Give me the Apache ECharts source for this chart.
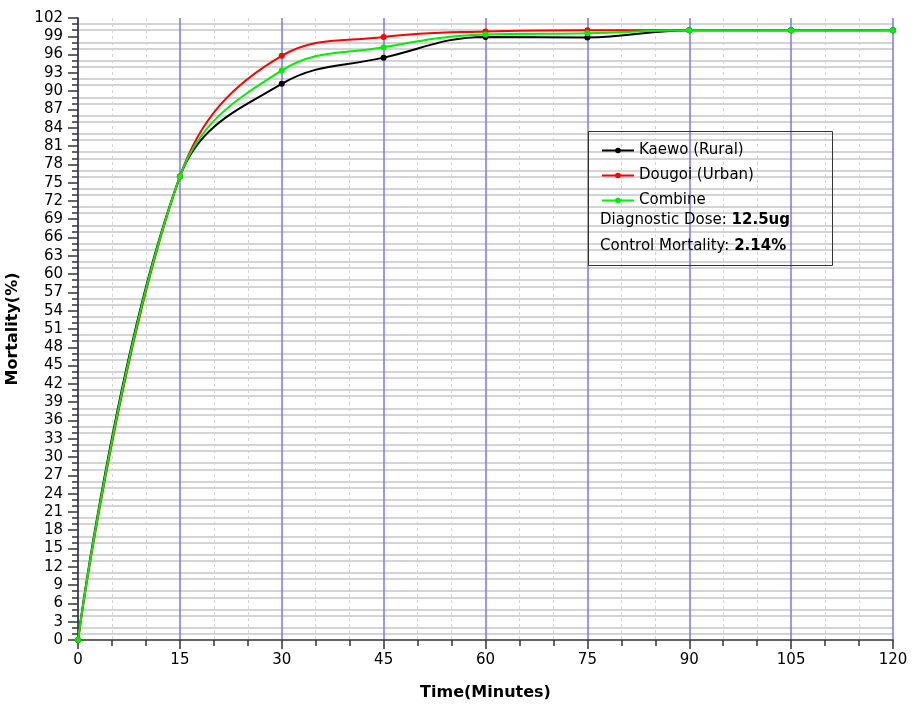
<!DOCTYPE html>
<html>
<head>
<meta charset="utf-8">
<script src="https://cdn.jsdelivr.net/npm/echarts@6/dist/echarts.min.js"></script>
<style>html,body{margin:0;padding:0;background:#fff}#c{width:915px;height:704px}</style>
</head>
<body>
<div id="c"></div>
<script>
var times = [0, 15, 30, 45, 60, 75, 90, 105, 120];
var kaewo = [0, 76, 91.2, 95.5, 98.9, 98.8, 100, 100, 100];
var dougoi = [0, 76, 95.8, 98.9, 99.8, 100, 100, 100, 100];
var combine = [0, 76, 93.4, 97.2, 99.3, 99.5, 100, 100, 100];
var seriesNames = ['Kaewo (Rural)', 'Dougoi (Urban)', 'Combine'];
var seriesColors = ['#000000', '#ff0000', '#00ee00'];
var doseText = '12.5ug';
var controlText = '2.14%';

function pairs(vals){ return times.map(function(t,i){ return [t, vals[i]]; }); }
var FONT = 'DejaVu Sans';
var chart = echarts.init(document.getElementById('c'));
var allVals = [kaewo, dougoi, combine];
chart.setOption({
  animation: false,
  backgroundColor: '#fff',
  grid: { left: 78, right: 22, top: 18, bottom: 64, containLabel: false, outerBoundsMode: 'none' },
  xAxis: {
    type: 'value', min: 0, max: 120, interval: 15,
    name: 'Time(Minutes)', nameLocation: 'middle', nameGap: 45,
    nameTextStyle: { fontFamily: FONT, fontWeight: 'bold', fontSize: 16, color: '#000' },
    axisLine: { show: true, onZero: false, lineStyle: { color: '#333', width: 1.5 } },
    axisTick: { show: true, length: 9, lineStyle: { color: '#333', width: 1.5 } },
    minorTick: { show: true, splitNumber: 3, length: 6, lineStyle: { color: '#333', width: 1.5 } },
    axisLabel: { margin: 13, fontFamily: FONT, fontSize: 15, color: '#000' },
    splitLine: { show: true, lineStyle: { color: '#7474ff', width: 1.5 } },
    minorSplitLine: { show: true, lineStyle: { color: '#d4d4d4', width: 1, type: [3, 3] } }
  },
  yAxis: {
    type: 'value', min: 0, max: 102, interval: 3,
    name: 'Mortality(%)', nameLocation: 'middle', nameGap: 57, nameRotate: 90,
    nameTextStyle: { fontFamily: FONT, fontWeight: 'bold', fontSize: 16, color: '#000' },
    axisLine: { show: true, lineStyle: { color: '#333', width: 1.5 } },
    axisTick: { show: true, length: 10, lineStyle: { color: '#333', width: 1.5 } },
    minorTick: { show: true, splitNumber: 3, length: 6, lineStyle: { color: '#333', width: 1.5 } },
    axisLabel: { margin: 15, fontFamily: FONT, fontSize: 15, color: '#000' },
    splitLine: { show: false },
    minorSplitLine: { show: true, lineStyle: { color: '#c6c6c6', width: 1.5 } }
  },
  legend: {
    left: 596, top: 138, orient: 'vertical', itemWidth: 32, itemHeight: 7, itemGap: 10,
    textStyle: { fontFamily: FONT, fontSize: 15, color: '#000' },
    data: seriesNames
  },
  graphic: [
    { type: 'rect', left: 588, top: 131, z: 100, shape: { width: 244, height: 134 }, style: { fill: 'rgba(0,0,0,0)', stroke: '#333', lineWidth: 1 }, silent: true },
    { type: 'text', left: 600, top: 213, z: 100, style: { text: '{n|Diagnostic Dose: }{b|' + doseText + '}', rich: { n: { fontFamily: FONT, fontSize: 15, fill: '#000' }, b: { fontFamily: FONT, fontSize: 15, fontWeight: 'bold', fill: '#000' } } } },
    { type: 'text', left: 600, top: 239, z: 100, style: { text: '{n|Control Mortality: }{b|' + controlText + '}', rich: { n: { fontFamily: FONT, fontSize: 15, fill: '#000' }, b: { fontFamily: FONT, fontSize: 15, fontWeight: 'bold', fill: '#000' } } } }
  ],
  series: seriesNames.map(function(n, i){
    return {
      name: n, type: 'line', data: pairs(allVals[i]), smooth: 0.4,
      symbol: 'circle', symbolSize: 6, showSymbol: true,
      lineStyle: { color: seriesColors[i], width: 2 },
      itemStyle: { color: seriesColors[i] },
      z: 3 + i
    };
  })
});
</script>
</body>
</html>
